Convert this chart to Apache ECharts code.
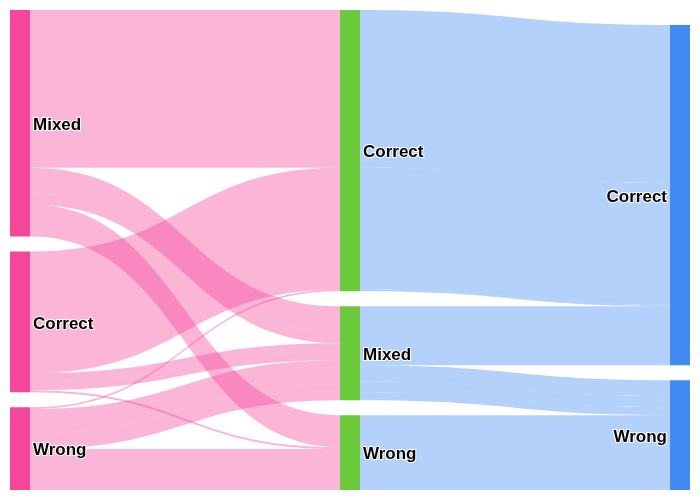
<!DOCTYPE html>
<html>
<head>
<meta charset="utf-8">
<script src="https://cdn.jsdelivr.net/npm/echarts@6/dist/echarts.min.js"></script>
<style>
  html, body { margin: 0; padding: 0; background: #fff; }
  #chart { width: 700px; height: 500px; }
</style>
</head>
<body>
<div id="chart"></div>
<script>
// node names per stage (prefix keeps names unique inside the sankey)
const stage1 = ['Mixed', 'Correct', 'Wrong']
const stage2 = ['Correct', 'Mixed', 'Wrong']
const stage3 = ['Correct', 'Wrong']

// links, one entry per flow
const linkSource = [
  '1-Mixed', '1-Mixed', '1-Mixed', '1-Mixed',
  '1-Correct', '1-Correct', '1-Correct', '1-Correct',
  '1-Wrong', '1-Wrong', '1-Wrong', '1-Wrong',
  '2-Correct', '2-Correct', '2-Correct',
  '2-Mixed', '2-Mixed', '2-Mixed', '2-Mixed',
  '2-Wrong', '2-Wrong'
]
const linkTarget = [
  '2-Correct', '2-Mixed', '2-Mixed', '2-Wrong',
  '2-Correct', '2-Mixed', '2-Mixed', '2-Wrong',
  '2-Correct', '2-Mixed', '2-Mixed', '2-Wrong',
  '3-Correct', '3-Correct', '3-Correct',
  '3-Correct', '3-Wrong', '3-Wrong', '3-Wrong',
  '3-Wrong', '3-Wrong'
]
const linkValue = [
  158, 26, 11, 32,
  122, 8, 9, 2,
  2, 24, 16, 41,
  158, 122, 2,
  59, 16, 11, 8,
  40, 35
]

const stageColor = ['#f5479a', '#6bc93c', '#428bf2']

const nodes = []
;[stage1, stage2, stage3].forEach((names, i) => {
  names.forEach((n) => {
    nodes.push({
      name: (i + 1) + '-' + n,
      itemStyle: { color: stageColor[i] },
      label: { position: i === 2 ? 'left' : 'right' }
    })
  })
})

const links = linkSource.map((s, i) => ({
  source: s,
  target: linkTarget[i],
  value: linkValue[i],
  lineStyle: { color: s.startsWith('1-') ? stageColor[0] : stageColor[2] }
}))

const chart = echarts.init(document.getElementById('chart'))
chart.setOption({
  animation: false,
  series: [
    {
      type: 'sankey',
      left: 10,
      right: 10,
      top: 10,
      bottom: 10,
      nodeWidth: 20,
      nodeGap: 15,
      draggable: false,
      data: nodes,
      links: links,
      itemStyle: { borderWidth: 0 },
      lineStyle: { opacity: 0.4, curveness: 0.5 },
      label: {
        distance: 3,
        offset: [0, 2],
        color: '#000',
        fontSize: 17,
        fontWeight: 'bold',
        fontFamily: 'Liberation Sans, Arial, sans-serif',
        textBorderColor: '#fff',
        textBorderWidth: 2,
        formatter: (p) => p.name.slice(2)
      },
      emphasis: { disabled: true }
    }
  ]
})
</script>
</body>
</html>
